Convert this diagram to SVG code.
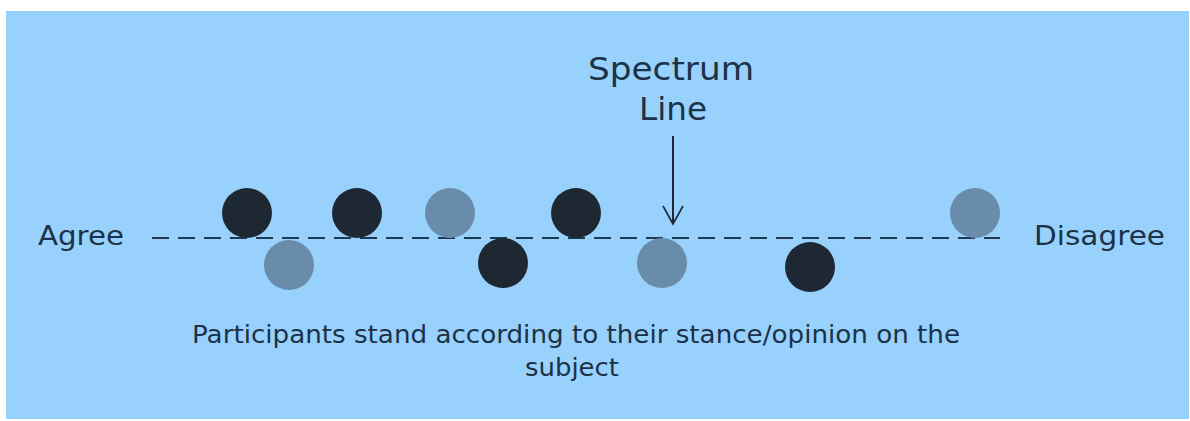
<svg xmlns="http://www.w3.org/2000/svg" width="1190" height="421" viewBox="0 0 1190 421">
<style>
.t{font-family:"DejaVu Sans","Open Sans",sans-serif;fill:#1b3248}
.dark{fill:#1d2832}
.grey{fill:#6a8cab}
</style>
<rect x="0" y="0" width="1190" height="421" fill="#ffffff"/>
<rect x="6" y="11" width="1183" height="408" fill="#97d1fc"/>
<g id="connectors">
<line x1="152" y1="238" x2="1000" y2="238" stroke="#1e3a52" stroke-width="2" stroke-dasharray="17 9"/>
<line x1="673" y1="136" x2="673" y2="224" stroke="#1d2832" stroke-width="2"/>
<path d="M663,206 L673,224 L683,206" fill="none" stroke="#1d2832" stroke-width="1.6"/>
</g>
<g id="c1"><circle class="dark" cx="247" cy="213" r="25"/></g>
<g id="c2"><circle class="grey" cx="289" cy="265" r="25"/></g>
<g id="c3"><circle class="dark" cx="357" cy="213" r="25"/></g>
<g id="c4"><circle class="grey" cx="450" cy="213" r="25"/></g>
<g id="c5"><circle class="dark" cx="503" cy="263" r="25"/></g>
<g id="c6"><circle class="dark" cx="576" cy="213" r="25"/></g>
<g id="c7"><circle class="grey" cx="662" cy="263" r="25"/></g>
<g id="c8"><circle class="dark" cx="810" cy="267" r="25"/></g>
<g id="c9"><circle class="grey" cx="975" cy="213" r="25"/></g>
<g id="title">
<text class="t" x="671" y="80" font-size="32" text-anchor="middle" textLength="166" lengthAdjust="spacingAndGlyphs">Spectrum</text>
<text class="t" x="673" y="120" font-size="32" text-anchor="middle" textLength="68" lengthAdjust="spacingAndGlyphs">Line</text>
</g>
<g id="agree"><text class="t" x="38" y="245" font-size="26" textLength="86" lengthAdjust="spacingAndGlyphs">Agree</text></g>
<g id="disagree"><text class="t" x="1034" y="245" font-size="26" textLength="131" lengthAdjust="spacingAndGlyphs">Disagree</text></g>
<g id="caption">
<text class="t" x="192" y="343" font-size="24" textLength="768" lengthAdjust="spacingAndGlyphs">Participants stand according to their stance/opinion on the</text>
<text class="t" x="572" y="376" font-size="24" text-anchor="middle" textLength="94" lengthAdjust="spacingAndGlyphs">subject</text>
</g>
</svg>
